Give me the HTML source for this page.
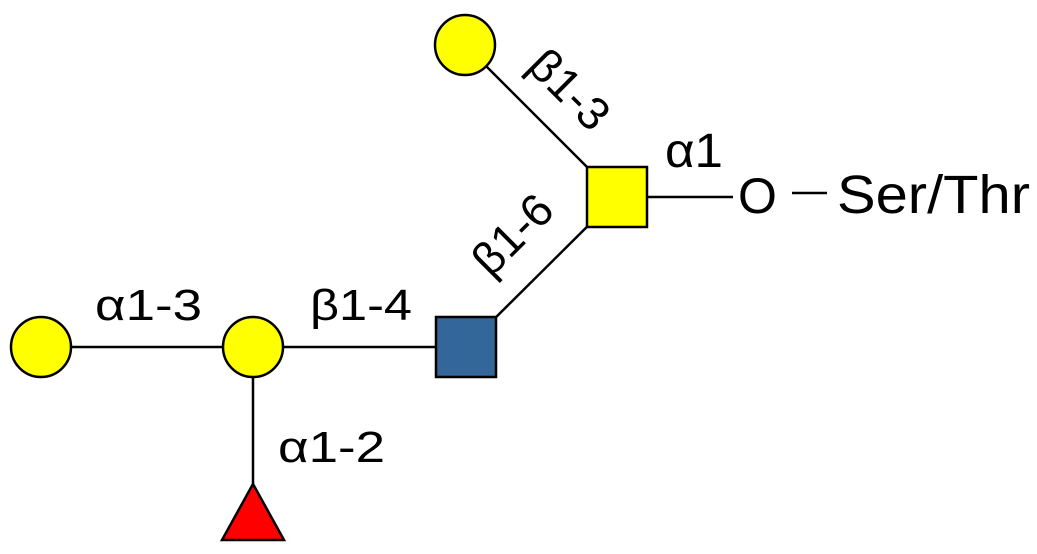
<!DOCTYPE html>
<html><head><style>
html,body{margin:0;padding:0;background:#fff;}
svg{display:block;}
text{font-family:"Liberation Sans",sans-serif;fill:#000;}
</style></head><body>
<svg width="1037" height="554" viewBox="0 0 1037 554">
<g stroke="#000" stroke-width="2.5" fill="none">
<line x1="465" y1="45" x2="617" y2="197"/>
<line x1="617" y1="197" x2="466" y2="347"/>
<line x1="617" y1="197" x2="733" y2="197"/>
<line x1="792" y1="193" x2="827" y2="193"/>
<line x1="41" y1="347" x2="466" y2="347"/>
<line x1="253" y1="347" x2="253" y2="490"/>
</g>
<g stroke="#000" stroke-width="2.5">
<circle cx="465" cy="45" r="30" fill="#ffff00"/>
<rect x="587" y="167" width="60" height="60" fill="#ffff00"/>
<rect x="436" y="317" width="60" height="60" fill="#336699"/>
<circle cx="253" cy="347" r="30" fill="#ffff00"/>
<circle cx="41" cy="347" r="30" fill="#ffff00"/>
<polygon points="253,484 284,540 222,540" fill="#ff0000"/>
</g>
<text x="665" y="167" font-size="48" textLength="58" lengthAdjust="spacingAndGlyphs">α1</text>
<text x="738" y="213" font-size="50">O</text>
<text x="837" y="213" font-size="54" textLength="193" lengthAdjust="spacingAndGlyphs">Ser/Thr</text>
<text x="95" y="320" font-size="44" textLength="107" lengthAdjust="spacingAndGlyphs">α1-3</text>
<text x="310" y="320" font-size="44" textLength="102" lengthAdjust="spacingAndGlyphs">β1-4</text>
<text x="278" y="462" font-size="44" textLength="107" lengthAdjust="spacingAndGlyphs">α1-2</text>
<text x="567" y="92" font-size="46" text-anchor="middle" dominant-baseline="middle" transform="rotate(45 567 92)">β1-3</text>
<text x="515" y="237" font-size="46" text-anchor="middle" dominant-baseline="middle" transform="rotate(-45 515 237)">β1-6</text>
</svg>
</body></html>
